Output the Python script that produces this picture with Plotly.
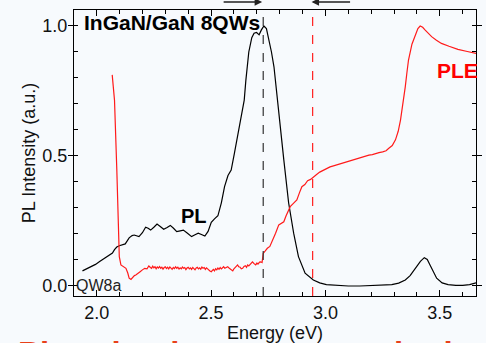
import plotly.graph_objects as go

# ---- PL (black) ----
pl_energy = [1.938, 1.955, 1.977, 1.995, 2.013, 2.028, 2.042, 2.055, 2.069, 2.078, 2.088, 2.099,
             2.112, 2.125, 2.142, 2.155, 2.164, 2.175, 2.185, 2.2, 2.214, 2.225, 2.236, 2.25,
             2.264, 2.278, 2.293, 2.308, 2.322, 2.336, 2.35, 2.365, 2.379, 2.397, 2.415, 2.43,
             2.444, 2.458, 2.473, 2.487, 2.501, 2.515, 2.53, 2.545, 2.559, 2.574, 2.588, 2.602,
             2.616, 2.63, 2.645, 2.652, 2.665, 2.678, 2.688, 2.699, 2.71, 2.72, 2.731, 2.742,
             2.753, 2.764, 2.775, 2.789, 2.796, 2.803, 2.818, 2.839, 2.861, 2.882, 2.911, 2.947,
             2.975, 3.004, 3.05, 3.1, 3.15, 3.2, 3.25, 3.29, 3.32, 3.349, 3.37, 3.392, 3.415,
             3.432, 3.445, 3.457, 3.472, 3.486, 3.51, 3.536, 3.57, 3.6, 3.63, 3.658]
pl_intensity = [0.058, 0.065, 0.074, 0.083, 0.094, 0.103, 0.110, 0.118, 0.127, 0.140, 0.150, 0.155,
                0.158, 0.162, 0.185, 0.194, 0.196, 0.193, 0.190, 0.205, 0.226, 0.222, 0.215, 0.226,
                0.238, 0.229, 0.218, 0.225, 0.233, 0.222, 0.209, 0.212, 0.215, 0.203, 0.190, 0.197,
                0.203, 0.198, 0.192, 0.210, 0.245, 0.258, 0.27, 0.32, 0.382, 0.425, 0.446, 0.51,
                0.574, 0.64, 0.715, 0.79, 0.90, 0.955, 0.972, 0.975, 0.966, 0.985, 1.0, 0.99,
                0.946, 0.90, 0.843, 0.72, 0.66, 0.613, 0.485, 0.32, 0.203, 0.113, 0.049, 0.023,
                0.012, 0.005, 0.002, 0.0, 0.0, 0.001, 0.002, 0.005, 0.011, 0.023, 0.04, 0.068, 0.095,
                0.109, 0.102, 0.081, 0.055, 0.03, 0.012, 0.005, 0.002, 0.002, 0.005, 0.012]

# ---- PLE (red) ----
ple_energy = [2.068, 2.078, 2.088, 2.096, 2.099, 2.106, 2.115, 2.128, 2.136, 2.142, 2.15, 2.158,
              2.165, 2.171, 2.18, 2.19, 2.2, 2.21, 2.22, 2.228, 2.235, 2.24, 2.245, 2.25, 2.255,
              2.26, 2.265, 2.27, 2.275, 2.28, 2.285, 2.29, 2.295, 2.30, 2.305, 2.31, 2.315, 2.32,
              2.325, 2.33, 2.335, 2.34, 2.345, 2.35, 2.355, 2.36, 2.365, 2.37, 2.375, 2.38, 2.385,
              2.39, 2.395, 2.40, 2.405, 2.41, 2.415, 2.42, 2.425, 2.43, 2.435, 2.44, 2.445, 2.45,
              2.455, 2.46, 2.465, 2.47, 2.475, 2.48, 2.485, 2.49, 2.495, 2.501, 2.505, 2.51, 2.515,
              2.52, 2.525, 2.53, 2.535, 2.54, 2.545, 2.55, 2.555, 2.56, 2.566,
              2.573, 2.58, 2.585, 2.59, 2.595, 2.6, 2.605, 2.61, 2.616, 2.621, 2.627, 2.632,
              2.638, 2.644, 2.65, 2.655, 2.66, 2.665, 2.67, 2.676, 2.681, 2.688, 2.695,
              2.7, 2.706, 2.712, 2.717, 2.723, 2.728, 2.737, 2.746, 2.757, 2.767, 2.782, 2.796, 2.808, 2.818,
              2.828, 2.839, 2.846, 2.86, 2.875, 2.887, 2.897, 2.91, 2.922, 2.935, 2.947, 2.96,
              2.975, 2.99, 3.004, 3.02, 3.035, 3.05, 3.062, 3.075, 3.09, 3.105, 3.119, 3.135,
              3.15, 3.165, 3.177, 3.19, 3.205, 3.22, 3.234, 3.25, 3.265, 3.277, 3.292, 3.306,
              3.318, 3.328, 3.339, 3.349, 3.356, 3.363, 3.378, 3.392, 3.404, 3.414, 3.425, 3.435,
              3.45, 3.464, 3.485, 3.507, 3.54, 3.579, 3.62, 3.658]
ple_intensity = [0.812, 0.715, 0.45, 0.151, 0.113, 0.081, 0.075, 0.068, 0.05, 0.03, 0.025, 0.035,
                 0.04, 0.042, 0.05, 0.055, 0.062, 0.068, 0.066, 0.077, 0.071, 0.068, 0.076, 0.07, 0.074,
                 0.066, 0.073, 0.069, 0.075, 0.068, 0.072, 0.065, 0.071, 0.074, 0.067, 0.072, 0.066, 0.073,
                 0.069, 0.064, 0.071, 0.067, 0.074, 0.068, 0.072, 0.065, 0.07, 0.066, 0.073, 0.068, 0.071,
                 0.063, 0.069, 0.072, 0.066, 0.07, 0.064, 0.071, 0.067, 0.062, 0.069, 0.072, 0.066, 0.07,
                 0.065, 0.073, 0.068, 0.071, 0.064, 0.07, 0.066, 0.061, 0.058, 0.055, 0.06, 0.064, 0.058,
                 0.066, 0.062, 0.069, 0.064, 0.071, 0.066, 0.069, 0.074, 0.068, 0.072,
                 0.074, 0.068, 0.064, 0.06, 0.058, 0.066, 0.07, 0.076, 0.081, 0.074, 0.072, 0.066,
                 0.068, 0.075, 0.078, 0.072, 0.081, 0.077, 0.083, 0.088, 0.093, 0.086, 0.081,
                 0.088, 0.085, 0.092, 0.093, 0.09, 0.126, 0.135, 0.145, 0.152,
                 0.17, 0.203, 0.235, 0.24, 0.247, 0.27, 0.292, 0.305, 0.318, 0.331, 0.36, 0.382,
                 0.39, 0.405, 0.41, 0.42, 0.428, 0.438, 0.445, 0.453, 0.458, 0.462, 0.466, 0.469,
                 0.472, 0.478, 0.48, 0.485, 0.49, 0.492, 0.497, 0.5, 0.503, 0.505, 0.51, 0.513,
                 0.516, 0.52, 0.53, 0.54, 0.562, 0.595, 0.638, 0.70, 0.767, 0.82, 0.869, 0.93,
                 0.959, 0.99, 1.0, 0.995, 0.985, 0.97, 0.959, 0.945, 0.933, 0.922, 0.910, 0.902,
                 0.895]

x_tick_vals = [2.0, 2.5, 3.0, 3.5]
x_tick_text = ["2.0", "2.5", "3.0", "3.5"]
y_tick_vals = [0.0, 0.5, 1.0]
y_tick_text = ["0.0", "0.5", "1.0"]

pl_marker_energy = 2.728
ple_marker_energy = 2.944

FONT = "Arial, Liberation Sans, sans-serif"
BG = "#f7fafd"

fig = go.Figure()
fig.add_trace(go.Scatter(x=pl_energy, y=pl_intensity, mode="lines",
                         line=dict(color="black", width=1.2), showlegend=False))
fig.add_trace(go.Scatter(x=ple_energy, y=ple_intensity, mode="lines",
                         line=dict(color="#ff1a1a", width=1.2), showlegend=False))

fig.add_shape(type="line", xref="x", yref="paper", x0=pl_marker_energy, x1=pl_marker_energy,
              y0=0, y1=1, line=dict(color="#333333", width=1.2, dash="dash"))
fig.add_shape(type="line", xref="x", yref="paper", x0=ple_marker_energy, x1=ple_marker_energy,
              y0=0, y1=1, line=dict(color="#ff2020", width=1.2, dash="dash"))

# arrows above the plot (paper coords, pixel offsets)
fig.add_annotation(x=0.468, y=1.028, xref="paper", yref="paper", ax=-40, ay=0,
                   text="", showarrow=True, arrowhead=2, arrowsize=1, arrowwidth=1.5, arrowcolor="#222")
fig.add_annotation(x=0.591, y=1.028, xref="paper", yref="paper", ax=40, ay=0,
                   text="", showarrow=True, arrowhead=2, arrowsize=1, arrowwidth=1.5, arrowcolor="#222")

fig.add_annotation(x=0.0196, y=0.955, xref="paper", yref="paper", xanchor="left", yanchor="middle",
                   text="<b>InGaN/GaN 8QWs</b>", showarrow=False,
                   font=dict(family=FONT, size=21, color="black"))
fig.add_annotation(x=0.299, y=0.281, xref="paper", yref="paper", xanchor="center", yanchor="middle",
                   text="<b>PL</b>", showarrow=False, font=dict(family=FONT, size=20, color="black"))
fig.add_annotation(x=0.955, y=0.79, xref="paper", yref="paper", xanchor="center", yanchor="middle",
                   text="<b>PLE</b>", showarrow=False, font=dict(family=FONT, size=21, color="#ff0000"))
fig.add_annotation(x=0.061, y=0.035, xref="paper", yref="paper", xanchor="center", yanchor="middle",
                   text="QW8a", showarrow=False, font=dict(family=FONT, size=16, color="#222222"))
fig.add_annotation(x=-0.1446, y=-0.128, xref="paper", yref="paper", xanchor="left", yanchor="top",
                   text="<b>Photoluminescence excitation</b>", showarrow=False,
                   font=dict(family=FONT, size=33, color="#e8401a"))

axis_common = dict(showline=True, linecolor="black", linewidth=1.2, mirror="ticks",
                   showgrid=False, zeroline=False,
                   tickfont=dict(family=FONT, size=18, color="#111"))

fig.update_xaxes(range=[1.901, 3.658], tickvals=x_tick_vals, ticktext=x_tick_text,
                 ticks="inside", ticklen=6, tickcolor="black",
                 minor=dict(dtick=0.1, ticks="inside", ticklen=4, tickcolor="black"),
                 title=dict(text="Energy (eV)", font=dict(family=FONT, size=18, color="#111"), standoff=4),
                 **axis_common)
fig.update_yaxes(range=[-0.0385, 1.0615], tickvals=y_tick_vals, ticktext=y_tick_text,
                 ticks="outside", ticklen=5, tickcolor="black", ticklabelstandoff=-3,
                 minor=dict(dtick=0.1, ticks="inside", ticklen=4, tickcolor="black"),
                 title=dict(text="PL Intensity (a.u.)", font=dict(family=FONT, size=18, color="#111"), standoff=1),
                 **axis_common)

fig.update_layout(width=486, height=343, margin=dict(l=74, r=4, t=10, b=47),
                  paper_bgcolor=BG, plot_bgcolor=BG, showlegend=False)

fig.write_html("out.html", config={"displayModeBar": False},
               post_script="document.body.style.margin='0';document.body.style.overflow='hidden';"
                           "document.body.style.background='" + BG + "';")
